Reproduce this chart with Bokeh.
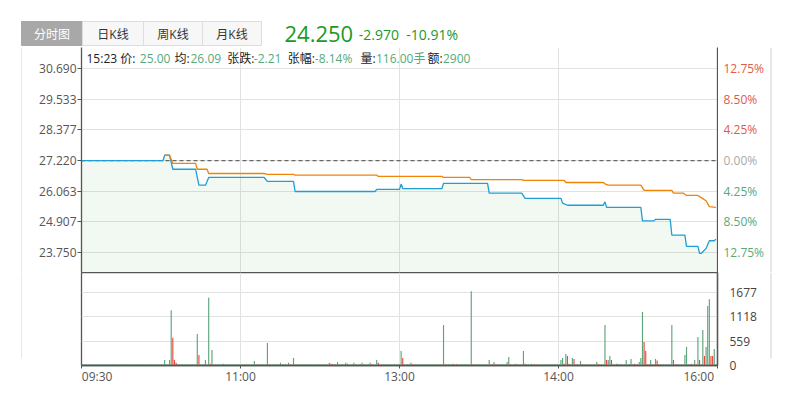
from bokeh.plotting import figure
from bokeh.models import (Range1d, LinearAxis, FixedTicker, Grid, Span, Label,
                          NumeralTickFormatter)
from bokeh.layouts import column, row
from bokeh.core.properties import value
from bokeh.embed import file_html
from bokeh.resources import INLINE

# ---------------- data ----------------
prev_close = 27.22
price_ticks = [30.690, 29.533, 28.377, 27.220, 26.063, 24.907, 23.750]
pct_tick_labels = ["12.75%", "8.50%", "4.25%", "0.00%", "4.25%", "8.50%", "12.75%"]
vol_ticks = [0, 559, 1118, 1677]
time_ticks = [0, 97.5, 195, 292.5, 390]
time_labels = ["09:30", "11:00", "13:00", "14:00", "16:00"]

tabs = ["分时图", "日K线", "周K线", "月K线"]
last_price = "24.250"
change = "-2.970"
change_pct = "-10.91%"
info_keys = ["15:23 价:", "均:", "张跌:", "张幅:", "量:", "额:"]
info_vals = ["25.00", "26.09", "-2.21", "-8.14%", "116.00手", "2900"]

# minute index (0 = 09:30) and price
price_t = [0, 50, 51, 54, 56, 70, 72, 76, 78, 112, 114, 130, 131, 180, 181, 195, 196, 197,
           221, 222, 249, 250, 270, 272, 294, 295, 298, 320, 321, 322, 343, 344, 351, 352,
           361, 362, 370, 371, 378, 379, 380, 383, 385, 388, 389]
price_v = [27.22, 27.22, 27.42, 27.42, 26.89, 26.89, 26.29, 26.29, 26.58, 26.58, 26.43, 26.43,
           26.05, 26.05, 26.13, 26.13, 26.33, 26.16, 26.16, 26.36, 26.36, 25.99, 25.99, 25.79,
           25.79, 25.61, 25.53, 25.53, 25.66, 25.45, 25.45, 24.94, 24.94, 25.00, 25.00, 24.40,
           24.40, 23.98, 23.98, 23.71, 23.71, 23.90, 24.19, 24.19, 24.25]
avg_t = [51, 54, 56, 70, 71, 77, 78, 112, 114, 130, 131, 181, 182, 221, 222, 238, 239, 270,
         271, 296, 297, 320, 321, 323, 343, 345, 362, 363, 369, 371, 378, 380, 383, 385, 389]
avg_v = [27.42, 27.42, 27.11, 27.11, 26.89, 26.89, 26.73, 26.73, 26.70, 26.70, 26.67, 26.67,
         26.62, 26.62, 26.58, 26.58, 26.50, 26.50, 26.47, 26.47, 26.39, 26.39, 26.34, 26.29,
         26.29, 26.09, 26.09, 25.99, 25.99, 25.90, 25.90, 25.82, 25.70, 25.48, 25.45]

# volume per minute (390 minutes, rows of 30)
volume = [
    30, 30, 30, 30, 30, 30, 30, 30, 30, 30, 30, 30, 30, 30, 30, 30, 30, 30, 30, 30, 30, 30, 30, 30, 30, 30, 30, 30, 30, 30,
    30, 30, 30, 30, 30, 30, 30, 30, 30, 30, 30, 30, 30, 30, 30, 30, 30, 30, 30, 30, 30, 125, 30, 30, 125, 1265, 634, 125, 60, 30,
    30, 30, 30, 30, 30, 30, 30, 30, 30, 30, 30, 718, 239, 30, 30, 30, 125, 30, 1546, 40, 353, 30, 30, 30, 30, 30, 30, 40, 30, 30,
    30, 30, 30, 30, 30, 30, 30, 30, 30, 30, 30, 30, 30, 30, 30, 30, 103, 30, 30, 30, 30, 30, 30, 30, 513, 30, 30, 30, 30, 30,
    30, 30, 60, 30, 30, 30, 30, 60, 30, 30, 171, 30, 30, 30, 30, 30, 30, 30, 30, 30, 30, 30, 30, 30, 30, 30, 30, 30, 30, 30,
    30, 30, 60, 40, 30, 30, 30, 80, 30, 30, 30, 30, 60, 40, 30, 30, 30, 60, 30, 30, 30, 30, 60, 30, 30, 30, 30, 60, 30, 30,
    30, 125, 60, 30, 30, 30, 30, 30, 30, 30, 30, 30, 30, 30, 30, 30, 331, 171, 30, 30, 30, 30, 60, 30, 30, 30, 30, 30, 30, 30,
    30, 30, 30, 30, 30, 30, 30, 30, 30, 30, 30, 30, 923, 30, 30, 30, 30, 30, 40, 30, 30, 30, 30, 30, 30, 30, 30, 30, 30, 1699,
    30, 30, 30, 30, 30, 30, 30, 30, 30, 30, 125, 30, 30, 80, 30, 30, 30, 30, 30, 30, 30, 80, 194, 30, 30, 30, 40, 30, 30, 30,
    30, 331, 40, 30, 30, 30, 40, 30, 30, 30, 30, 30, 30, 30, 30, 30, 30, 30, 30, 30, 30, 30, 30, 30, 125, 171, 40, 262, 217, 40,
    30, 171, 148, 30, 30, 30, 103, 30, 30, 30, 30, 30, 30, 30, 30, 30, 80, 30, 30, 30, 30, 923, 125, 125, 217, 125, 30, 30, 40, 40,
    30, 30, 30, 30, 125, 30, 30, 148, 30, 40, 30, 30, 80, 171, 1220, 536, 331, 30, 30, 125, 30, 30, 148, 116, 30, 30, 30, 30, 30, 30,
    30, 30, 923, 125, 30, 30, 30, 30, 30, 30, 239, 422, 30, 30, 40, 30, 125, 30, 650, 125, 30, 809, 217, 422, 1357, 1516, 217, 217, 376, 30,
]
# g = falling (green), r = rising (red), one char per minute
vol_dir = (
    "gggggggggggggggggggggggggggggg"
    "ggggggggggggggggggggggggggrrrg"
    "ggggggggggggrggggggrgggggggggg"
    "ggggggggggggggggggrggggggrgggg"
    "ggggrgggrggrgggggggggggggggggg"
    "gggrrggggggggrggggrggggrggggrg"
    "ggrrgggggggggggggrgggggrgggggg"
    "gggggggggggggrggggggrggggggggg"
    "rgggggggggggrggrgggggggrgggrgg"
    "ggrgggggrgggggggggggggggggrgrr"
    "ggrgrggrgggggggggrggggrggrrggg"
    "grggggrggrrggggrrgrggrgrrggggg"
    "gggrgrgggggggrgrgrgrggrgggrrgg"
)

# ---------------- styling ----------------
FONT = "Open Sans, Noto Sans CJK SC, sans-serif"
AX = "#555555"
GRID = "#e2e2e2"
EDGE = "#d0d0d0"
GREEN_BAR = "#5da47a"
RED_BAR = "#e24a3b"
BLUE = "#1f9fd4"
ORANGE = "#f08406"
VAL_GREEN = "#57a97c"
HEAD_GREEN = "#1c9a24"
PCT_RED = "#e0594b"
PCT_GRAY = "#aaaaaa"
NB = "\u00a0"


def plain(width, height, x_range, y_range):
    f = figure(width=width, height=height, x_range=x_range, y_range=y_range,
               x_axis_type=None, y_axis_type=None, output_backend="svg", toolbar_location=None,
               min_border=0, outline_line_color=None, border_fill_color="white",
               background_fill_color="white")
    return f


# ---------------- header (tabs and last price) ----------------
ph = plain(780, 47, Range1d(0, 780), Range1d(47, 0))
tab_left = [21, 82, 143, 202]
tab_right = [82, 143, 202, 261]
ph.quad(left=tab_left, right=tab_right, top=21, bottom=45,
        fill_color=["#a8a8a8", "#f7f7f7", "#f7f7f7", "#f7f7f7"],
        line_color=["#a8a8a8", "#dddddd", "#dddddd", "#dddddd"], line_width=1)
ph.text(x=[(a + b) / 2 for a, b in zip(tab_left, tab_right)], y=33.5, text=tabs,
        text_align="center", text_baseline="middle", text_font=value(FONT),
        text_font_size="12px", text_color=["white", "#333333", "#333333", "#333333"])
ph.text(x=[284], y=[33.5], text=[last_price], text_align="left", text_baseline="middle",
        text_font=value(FONT), text_font_size="22px", text_color=HEAD_GREEN)
ph.text(x=[358.3, 405.7], y=34, text=[change, change_pct], text_align="left",
        text_baseline="middle", text_font=value(FONT), text_font_size="14px",
        text_color=HEAD_GREEN)

# ---------------- price panel ----------------
x_range = Range1d(0, 390)
price_range = Range1d(22.99, 31.49)

ls1 = plain(22, 225, Range1d(0, 22), Range1d(0, 1))
ls1.add_layout(Span(location=21.5, dimension="height", line_color=EDGE, line_width=1))

p1 = figure(width=696, height=225, x_range=x_range, y_range=price_range,
            x_axis_type=None, y_axis_type=None, output_backend="svg", toolbar_location=None,
            min_border_left=59, min_border_right=1, min_border_top=0, min_border_bottom=0,
            outline_line_color=None, border_fill_color="white", background_fill_color="white")
yax = LinearAxis(ticker=FixedTicker(ticks=price_ticks), formatter=NumeralTickFormatter(format="0.000"),
                 axis_line_color=AX, axis_line_width=1.3, major_tick_line_color=AX, major_tick_out=4,
                 major_tick_in=0, minor_tick_line_color=None, major_label_standoff=1,
                 major_label_text_font=FONT, major_label_text_font_size="12px",
                 major_label_text_color="#555555")
p1.add_layout(yax, "left")
rax = LinearAxis(ticker=FixedTicker(ticks=[]), axis_line_color=AX, axis_line_width=1.3,
                 major_tick_line_color=None, minor_tick_line_color=None, major_tick_out=0,
                 major_tick_in=0, major_label_standoff=0, major_label_text_font_size="0px")
p1.add_layout(rax, "right")
p1.add_layout(Grid(dimension=1, ticker=FixedTicker(ticks=price_ticks), grid_line_color=GRID))
p1.add_layout(Grid(dimension=0, ticker=FixedTicker(ticks=time_ticks[1:-1]), grid_line_color=GRID))

p1.add_layout(Span(location=prev_close, dimension="width", line_color="#666666", line_width=1.2,
                   line_dash="4 3", level="underlay"))
p1.varea(x=price_t, y1=price_v, y2=price_range.start, fill_color="#3c9a3c", fill_alpha=0.065)
p1.line(price_t, price_v, line_color=BLUE, line_width=1.3)
p1.line(avg_t, avg_v, line_color=ORANGE, line_width=1.3)

# info line inside the frame (screen offsets from the frame's left edge)
key_x = [5, 93, 145.7, 206.3, 279, 346]
val_x = [58.3, 109, 172.3, 233.3, 294.5, 361.5]
for k, v, kx, vx in zip(info_keys, info_vals, key_x, val_x):
    p1.add_layout(Label(x=kx, x_units="screen", y=214, y_units="screen", text=k,
                        text_align="left", text_baseline="middle", text_font=FONT,
                        text_font_size="12px", text_color="#222222"))
    p1.add_layout(Label(x=vx, x_units="screen", y=214, y_units="screen", text=v,
                        text_align="left", text_baseline="middle", text_font=FONT,
                        text_font_size="12px", text_color=VAL_GREEN))

# percent scale to the right of the price panel
p1r = plain(62, 225, Range1d(0, 62), price_range)
pct_colors = [PCT_RED if lv > prev_close else (PCT_GRAY if lv == prev_close else VAL_GREEN)
              for lv in price_ticks]
p1r.text(x=5, y=price_ticks, text=pct_tick_labels, text_align="left", text_baseline="middle",
         text_font=value(FONT), text_font_size="12px", text_color=pct_colors)
p1r.add_layout(Span(location=52.5, dimension="height", line_color=EDGE, line_width=1))

# ---------------- volume panel ----------------
ls2 = plain(22, 108, Range1d(0, 22), Range1d(0, 1))
ls2.add_layout(Span(location=21.5, dimension="height", line_color=EDGE, line_width=1))

p2 = figure(width=747, height=115, x_range=x_range, y_range=Range1d(0, 2125),
            x_axis_type=None, y_axis_type=None, output_backend="svg", toolbar_location=None,
            min_border_left=59, min_border_right=52, min_border_top=0, min_border_bottom=21,
            outline_line_color=AX, outline_line_width=1.3, border_fill_color="white",
            background_fill_color="white")
vax = LinearAxis(ticker=FixedTicker(ticks=vol_ticks), axis_line_color=AX, axis_line_width=1.3,
                 major_tick_line_color=None, minor_tick_line_color=None, major_label_standoff=6,
                 major_label_text_font=FONT, major_label_text_font_size="12px",
                 major_label_text_color="#444444")
p2.add_layout(vax, "right")
edge_labels = {0: NB * 10 + time_labels[0], 4: time_labels[4] + NB * 12}
tax = LinearAxis(ticker=FixedTicker(ticks=time_ticks),
                 major_label_overrides={time_ticks[i]: edge_labels.get(i, time_labels[i])
                                        for i in range(5)},
                 axis_line_color=AX, axis_line_width=1.3, major_tick_line_color=AX, major_tick_out=3,
                 major_tick_in=0, minor_tick_line_color=None, major_label_standoff=-1,
                 major_label_text_font=FONT, major_label_text_font_size="12px",
                 major_label_text_color="#555555")
p2.add_layout(tax, "below")
p2.add_layout(Grid(dimension=1, ticker=FixedTicker(ticks=vol_ticks[1:]), grid_line_color=GRID))
p2.add_layout(Grid(dimension=0, ticker=FixedTicker(ticks=time_ticks[1:-1]), grid_line_color=GRID))

minutes = list(range(len(volume)))
bar_colors = [GREEN_BAR if d == "g" else RED_BAR for d in vol_dir]
p2.vbar(x=minutes, top=volume, width=0.7, fill_color=bar_colors, line_color=None)

rs2 = plain(11, 108, Range1d(0, 11), Range1d(0, 1))
rs2.add_layout(Span(location=1.5, dimension="height", line_color=EDGE, line_width=1))

layout = column(ph, row(ls1, p1, p1r, spacing=0), row(ls2, p2, rs2, spacing=0), spacing=0)
open("out.html", "w").write(file_html(layout, INLINE))
